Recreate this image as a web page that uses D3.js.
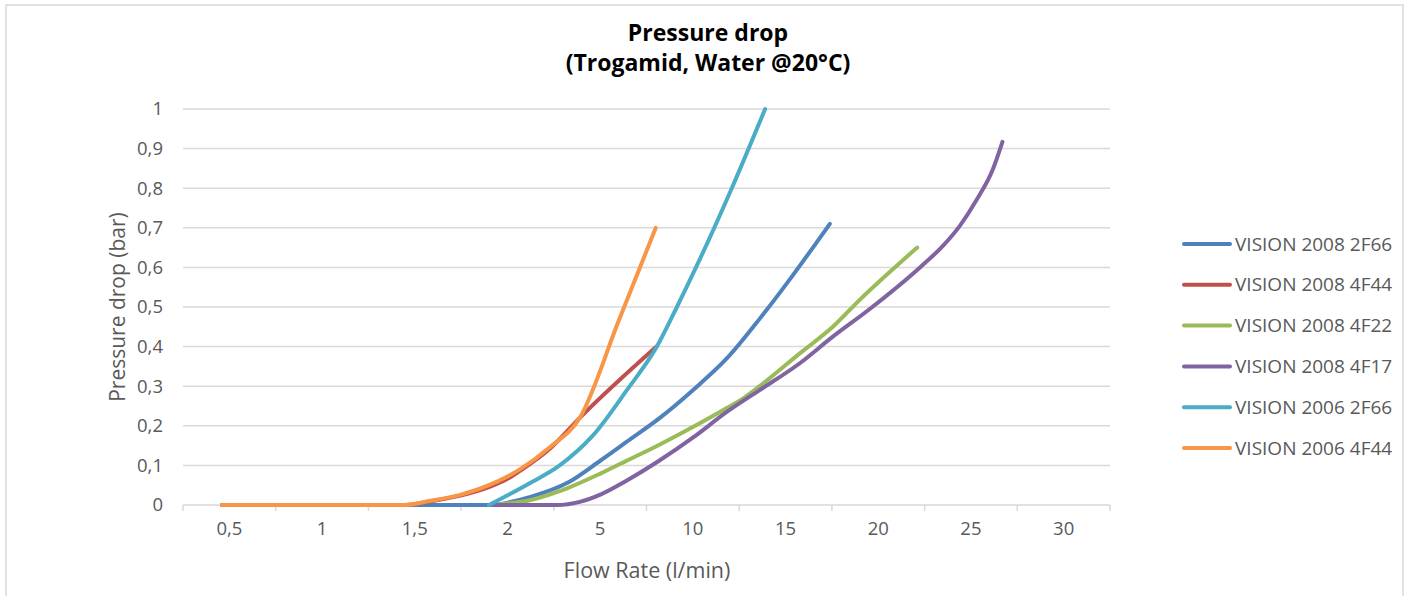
<!DOCTYPE html>
<html><head><meta charset="utf-8">
<script src="https://cdn.jsdelivr.net/npm/d3@7/dist/d3.min.js"></script>
<style>body{margin:0;background:#fff}svg{display:block}</style>
</head><body>
<svg id="chart" width="1409" height="596"></svg>
<script>
// ---- data ----
const categories = ["0,5","1","1,5","2","5","10","15","20","25","30"];
const categoryValues = [0.5,1,1.5,2,5,10,15,20,25,30];
const yTickValues = [0,0.1,0.2,0.3,0.4,0.5,0.6,0.7,0.8,0.9,1];
const yTickLabels = ["0","0,1","0,2","0,3","0,4","0,5","0,6","0,7","0,8","0,9","1"];
const seriesNames = ["VISION 2008 2F66","VISION 2008 4F44","VISION 2008 4F22","VISION 2008 4F17","VISION 2006 2F66","VISION 2006 4F44"];
const seriesColors = ["#4F81BD","#C0504D","#9BBB59","#8064A2","#4BACC6","#F79646"];

const blue2F66Flow   = [0.46,1.9,2.72,3.99,5.04,6.44,8.22,10,11.83,13.6,15.39,17.39];
const blue2F66Drop   = [0,0,0.02,0.058,0.113,0.16,0.22,0.29,0.37,0.47,0.58,0.71];
const red4F44Flow    = [0.46,1.45,1.58,1.74,1.9,2,2.4,3.37,4.34,8.04];
const red4F44Drop    = [0,0,0.009,0.023,0.045,0.066,0.086,0.142,0.22,0.40];
const green4F22Flow  = [1.9,2.72,3.69,5.04,6.44,8.22,10,11.83,12.8,13.6,15.77,17.55,19.0,22.1];
const green4F22Drop  = [0,0.012,0.035,0.08,0.112,0.153,0.197,0.245,0.272,0.30,0.383,0.45,0.518,0.65];
const purple4F17Flow = [1.9,3.6,4.34,5.04,6.44,8.22,10,11.83,13.6,15.77,17.55,19.54,22.25,23.5,24.4,25.3,26.2,26.7];
const purple4F17Drop = [0,0,0.008,0.027,0.062,0.113,0.17,0.235,0.29,0.358,0.425,0.495,0.60,0.655,0.705,0.77,0.85,0.917];
const cyan2F66Flow   = [1.9,2.72,3.69,4.76,6.44,8.06,9.14,10.22,12.1,13.9];
const cyan2F66Drop   = [0,0.055,0.10,0.175,0.29,0.40,0.50,0.605,0.80,1.0];
const orange4F44Flow = [0.46,1.45,1.58,1.74,1.9,2,2.4,3.37,4.34,6.0,8.0];
const orange4F44Drop = [0,0,0.01,0.025,0.05,0.072,0.09,0.146,0.22,0.465,0.70];

const seriesFlows = [blue2F66Flow,red4F44Flow,green4F22Flow,purple4F17Flow,cyan2F66Flow,orange4F44Flow];
const seriesDrops = [blue2F66Drop,red4F44Drop,green4F22Drop,purple4F17Drop,cyan2F66Drop,orange4F44Drop];

// ---- layout ----
const svg = d3.select("#chart");
const plot = {left:183, right:1110, top:109, bottom:505};
const textGrey = "#595959", gridGrey = "#D9D9D9";
const font = "'Open Sans', sans-serif";

svg.append("rect").attr("x",6).attr("y",5).attr("width",1397).attr("height",600)
  .attr("fill","#fff").attr("stroke","#D9D9D9").attr("stroke-width",1.5);

const band = d3.scaleBand().domain(categories).range([plot.left, plot.right]).paddingInner(0).paddingOuter(0);
const x = d3.scaleLinear().domain(categoryValues)
  .range(categories.map(c => band(c) + band.bandwidth()/2));
const y = d3.scaleLinear().domain([0,1]).range([plot.bottom, plot.top]);

// gridlines
svg.append("g").selectAll("line").data(yTickValues.slice(1)).join("line")
  .attr("x1",plot.left).attr("x2",plot.right)
  .attr("y1",d=>y(d)).attr("y2",d=>y(d))
  .attr("stroke",gridGrey).attr("stroke-width",1.5);

// y axis labels
const yAxis = d3.axisLeft(y).tickValues(yTickValues).tickSize(0).tickPadding(0)
  .tickFormat((d,i)=>yTickLabels[i]);
const gy = svg.append("g").attr("transform",`translate(${plot.left-20},0)`).call(yAxis);
gy.select(".domain").remove();
gy.selectAll("text").attr("fill",textGrey).style("font-family",font).style("font-size","18.5px");

// x axis
const xAxis = d3.axisBottom(band).tickSize(0).tickPadding(17);
const gx = svg.append("g").attr("transform",`translate(0,${plot.bottom})`).call(xAxis);
gx.select(".domain").attr("stroke",gridGrey).attr("stroke-width",1.5).attr("d",`M${plot.left},0H${plot.right}`);
gx.selectAll("text").attr("fill",textGrey).style("font-family",font).style("font-size","18.5px");
const boundaries = categories.map(c=>band(c)).concat([plot.right]);
svg.append("g").selectAll("line").data(boundaries).join("line")
  .attr("x1",d=>d).attr("x2",d=>d).attr("y1",plot.bottom).attr("y2",plot.bottom+6)
  .attr("stroke",gridGrey).attr("stroke-width",1.5);

// lines
const line = d3.line().x(d=>x(d[0])).y(d=>y(d[1])).curve(d3.curveMonotoneX);
seriesNames.forEach((name,i)=>{
  const pts = seriesFlows[i].map((f,j)=>[f,seriesDrops[i][j]]);
  svg.append("path").datum(pts).attr("d",line).attr("fill","none")
    .attr("stroke",seriesColors[i]).attr("stroke-width",4)
    .attr("stroke-linejoin","round").attr("stroke-linecap","round");
});

// titles
svg.append("text").attr("x",708).attr("y",41).attr("text-anchor","middle")
  .style("font-family",font).style("font-weight","bold").style("font-size","23px").attr("fill","#000")
  .text("Pressure drop");
svg.append("text").attr("x",708).attr("y",71).attr("text-anchor","middle")
  .style("font-family",font).style("font-weight","bold").style("font-size","23px").attr("fill","#000")
  .text("(Trogamid, Water @20°C)");
svg.append("text").attr("x",647).attr("y",578).attr("text-anchor","middle")
  .style("font-family",font).style("font-size","21.5px").attr("fill",textGrey)
  .text("Flow Rate (l/min)");
svg.append("text").attr("transform","translate(125,307) rotate(-90)").attr("text-anchor","middle")
  .style("font-family",font).style("font-size","21px").attr("fill",textGrey)
  .text("Pressure drop (bar)");

// legend
const lg = svg.append("g");
seriesNames.forEach((name,i)=>{
  const ly = 244 + i*40.8;
  lg.append("line").attr("x1",1184).attr("x2",1230).attr("y1",ly).attr("y2",ly)
    .attr("stroke",seriesColors[i]).attr("stroke-width",4).attr("stroke-linecap","round");
  lg.append("text").attr("x",1235).attr("y",ly).attr("dy","0.35em")
    .style("font-family",font).style("font-size","19px").attr("fill",textGrey).text(name);
});
</script>
</body></html>
